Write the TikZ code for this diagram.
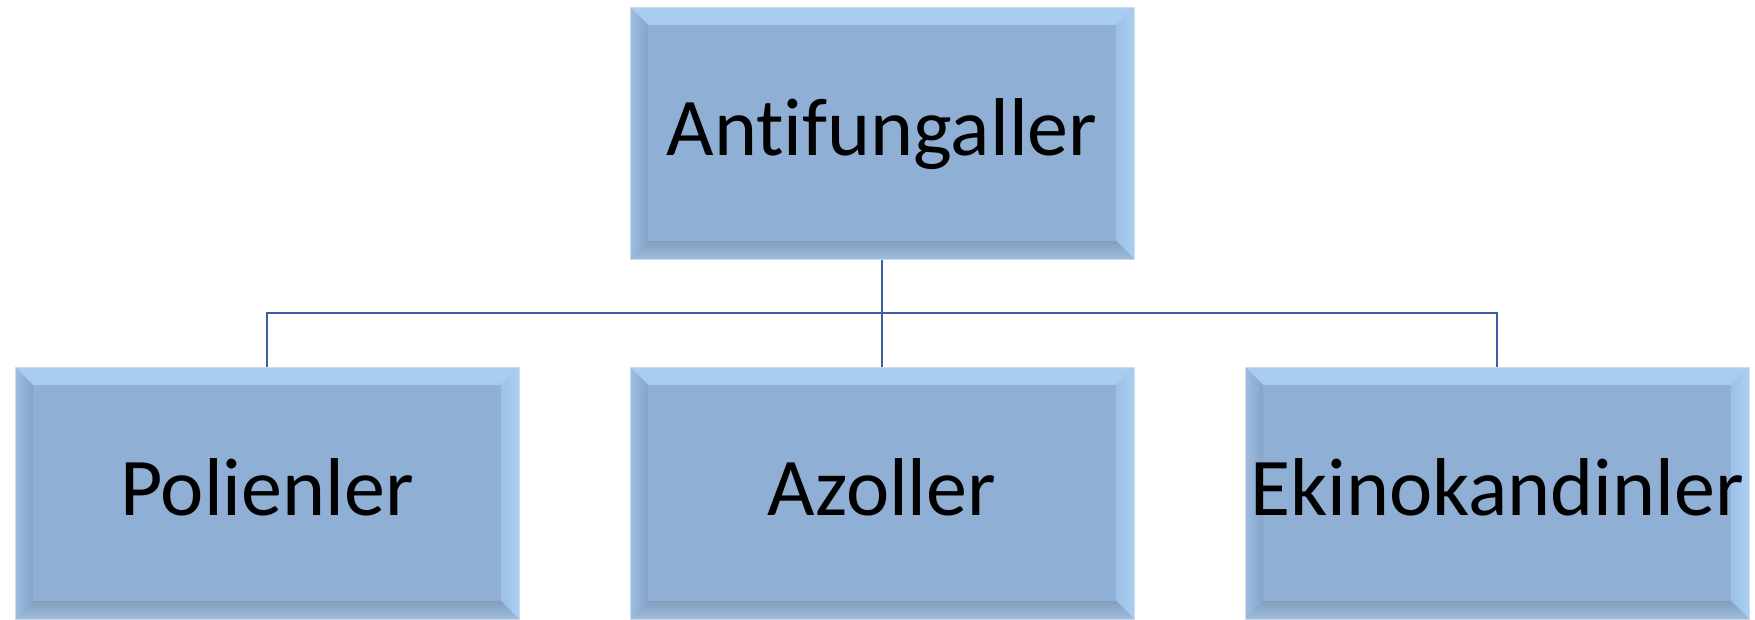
\documentclass[tikz,border=0pt]{standalone}
\usepackage{fontspec}
\setmainfont{Carlito}[Ligatures={NoCommon,NoRare}]
\definecolor{boxfill}{HTML}{8FAFD5}
\definecolor{bevtopA}{HTML}{AACDF2}
\definecolor{bevleftA}{HTML}{9DBEE2}
\definecolor{bevleftB}{HTML}{86A3C6}
\definecolor{bevbotA}{HTML}{849DBD}
\definecolor{bevbotB}{HTML}{9DBDE2}
\definecolor{bevrightA}{HTML}{9CC0E6}
\definecolor{bevrightB}{HTML}{AAD0F6}
\definecolor{boxline}{HTML}{D3DAE3}
\definecolor{connc}{HTML}{3A5FA3}
\tikzset{
  orgbox/.style={
    draw=boxline, line width=1pt, fill=boxfill,
    minimum width=504pt, minimum height=252pt, inner sep=0pt,
    text height=45pt, text depth=0pt,
    font=\fontsize{82}{96}\selectfont,
    path picture={
      \shade[top color=bevtopA, bottom color=boxfill] (path picture bounding box.north west) -- (path picture bounding box.north east)
        -- ([xshift=-18pt,yshift=-18pt]path picture bounding box.north east)
        -- ([xshift=18pt,yshift=-18pt]path picture bounding box.north west) -- cycle;
      \shade[left color=bevrightA, right color=bevrightB] (path picture bounding box.north east) -- (path picture bounding box.south east)
        -- ([xshift=-18pt,yshift=18pt]path picture bounding box.south east)
        -- ([xshift=-18pt,yshift=-18pt]path picture bounding box.north east) -- cycle;
      \shade[left color=bevleftA, right color=bevleftB] (path picture bounding box.north west) -- (path picture bounding box.south west)
        -- ([xshift=18pt,yshift=18pt]path picture bounding box.south west)
        -- ([xshift=18pt,yshift=-18pt]path picture bounding box.north west) -- cycle;
      \shade[top color=bevbotA, bottom color=bevbotB] (path picture bounding box.south west) -- (path picture bounding box.south east)
        -- ([xshift=-18pt,yshift=18pt]path picture bounding box.south east)
        -- ([xshift=18pt,yshift=18pt]path picture bounding box.south west) -- cycle;
    }
  },
  conn/.style={draw=connc, line width=2pt}
}
\begin{document}
\begin{tikzpicture}[x=1pt,y=-1pt]
\useasboundingbox (0,0) rectangle (1755,619);
\node[orgbox] (top) at (882,133) {Antifungaller};
\node[orgbox] (pol) at (267,493) {Polienler};
\node[orgbox] (azo) at (882,493) {Azoller};
\node[orgbox] (eki) at (1497,493) {Ekinokandinler};
\coordinate (bus) at (882,313);
\draw[conn] (top.south) -- (bus);
\draw[conn] (pol.north) |- (bus);
\draw[conn] (eki.north) |- (bus);
\draw[conn] (azo.north) -- (bus);
\end{tikzpicture}
\end{document}
